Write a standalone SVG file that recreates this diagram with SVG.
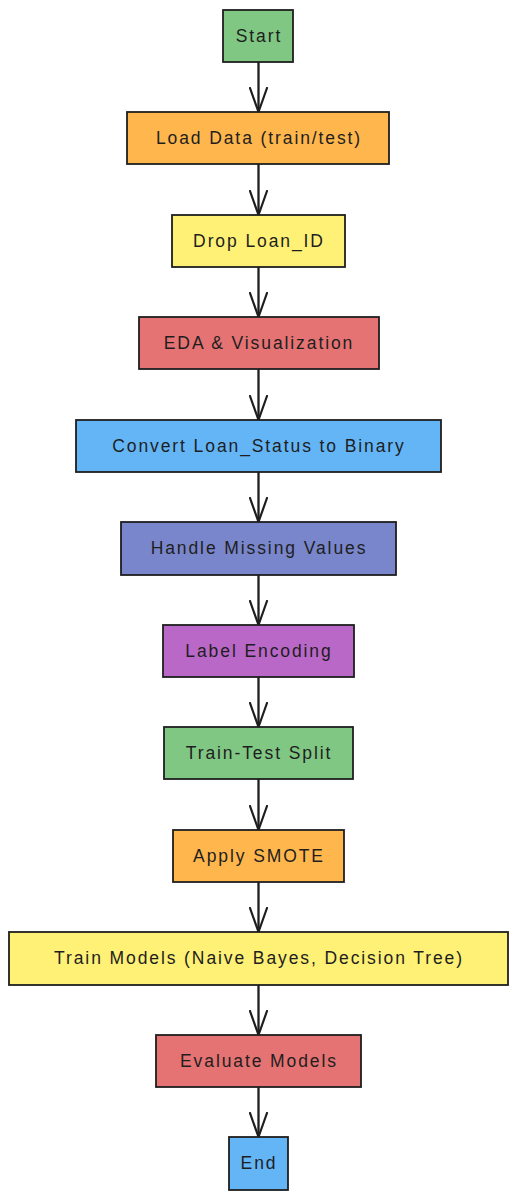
<svg xmlns="http://www.w3.org/2000/svg" width="518" height="1200" viewBox="0 0 518 1200">
<defs>
<style>
.n rect{stroke:#1e1e1e;stroke-width:1.8}
.n text{font-family:"Liberation Sans",Arial,sans-serif;font-size:17.5px;letter-spacing:1.9px;fill:#1e1e1e;text-anchor:middle;dominant-baseline:central}
.g{fill:#81c784}.o{fill:#ffb74d}.y{fill:#fff176}.r{fill:#e57373}.b{fill:#64b5f6}.i{fill:#7986cb}.p{fill:#ba68c8}
#edges path{fill:none;stroke:#1e1e1e;stroke-width:2.3;stroke-linecap:round;stroke-linejoin:round}
</style>
<marker id="ah" viewBox="0 0 26 20" refX="25" refY="10" markerWidth="26" markerHeight="20" markerUnits="userSpaceOnUse" orient="auto">
<path d="M1 1.5 L25 10 L1 18.5" fill="none" stroke="#1e1e1e" stroke-width="2.2" stroke-linecap="round" stroke-linejoin="round"/>
</marker>
</defs>
<rect width="518" height="1200" fill="#ffffff"/>
<g id="edges">
<path d="M258.5 62 V112" marker-end="url(#ah)"/>
<path d="M258.5 164 V215" marker-end="url(#ah)"/>
<path d="M258.5 267 V317" marker-end="url(#ah)"/>
<path d="M258.5 369 V420" marker-end="url(#ah)"/>
<path d="M258.5 472 V522" marker-end="url(#ah)"/>
<path d="M258.5 575 V625" marker-end="url(#ah)"/>
<path d="M258.5 677 V727" marker-end="url(#ah)"/>
<path d="M258.5 779 V830" marker-end="url(#ah)"/>
<path d="M258.5 882 V932" marker-end="url(#ah)"/>
<path d="M258.5 985 V1035" marker-end="url(#ah)"/>
<path d="M258.5 1087 V1137" marker-end="url(#ah)"/>
</g>
<g id="start" class="n"><rect class="g" x="223" y="10" width="70" height="52"/><text x="259" y="36">Start</text></g>
<g id="load" class="n"><rect class="o" x="127" y="112" width="262" height="52"/><text x="259" y="138">Load Data (train/test)</text></g>
<g id="drop" class="n"><rect class="y" x="172" y="215" width="173" height="52"/><text x="259" y="241">Drop Loan_ID</text></g>
<g id="eda" class="n"><rect class="r" x="139" y="317" width="240" height="52"/><text x="259" y="343">EDA &amp; Visualization</text></g>
<g id="convert" class="n"><rect class="b" x="76" y="420" width="365" height="52"/><text x="259" y="446">Convert Loan_Status to Binary</text></g>
<g id="missing" class="n"><rect class="i" x="121" y="522" width="275" height="53"/><text x="259" y="548">Handle Missing Values</text></g>
<g id="encode" class="n"><rect class="p" x="163" y="625" width="191" height="52"/><text x="259" y="651">Label Encoding</text></g>
<g id="split" class="n"><rect class="g" x="164" y="727" width="189" height="52"/><text x="259" y="753">Train-Test Split</text></g>
<g id="smote" class="n"><rect class="o" x="173" y="830" width="171" height="52"/><text x="259" y="856">Apply SMOTE</text></g>
<g id="train" class="n"><rect class="y" x="9" y="932" width="499" height="53"/><text x="259" y="958">Train Models (Naive Bayes, Decision Tree)</text></g>
<g id="evaluate" class="n"><rect class="r" x="156" y="1035" width="205" height="52"/><text x="259" y="1061">Evaluate Models</text></g>
<g id="end" class="n"><rect class="b" x="229" y="1137" width="59" height="53"/><text x="259" y="1163">End</text></g>
</svg>
